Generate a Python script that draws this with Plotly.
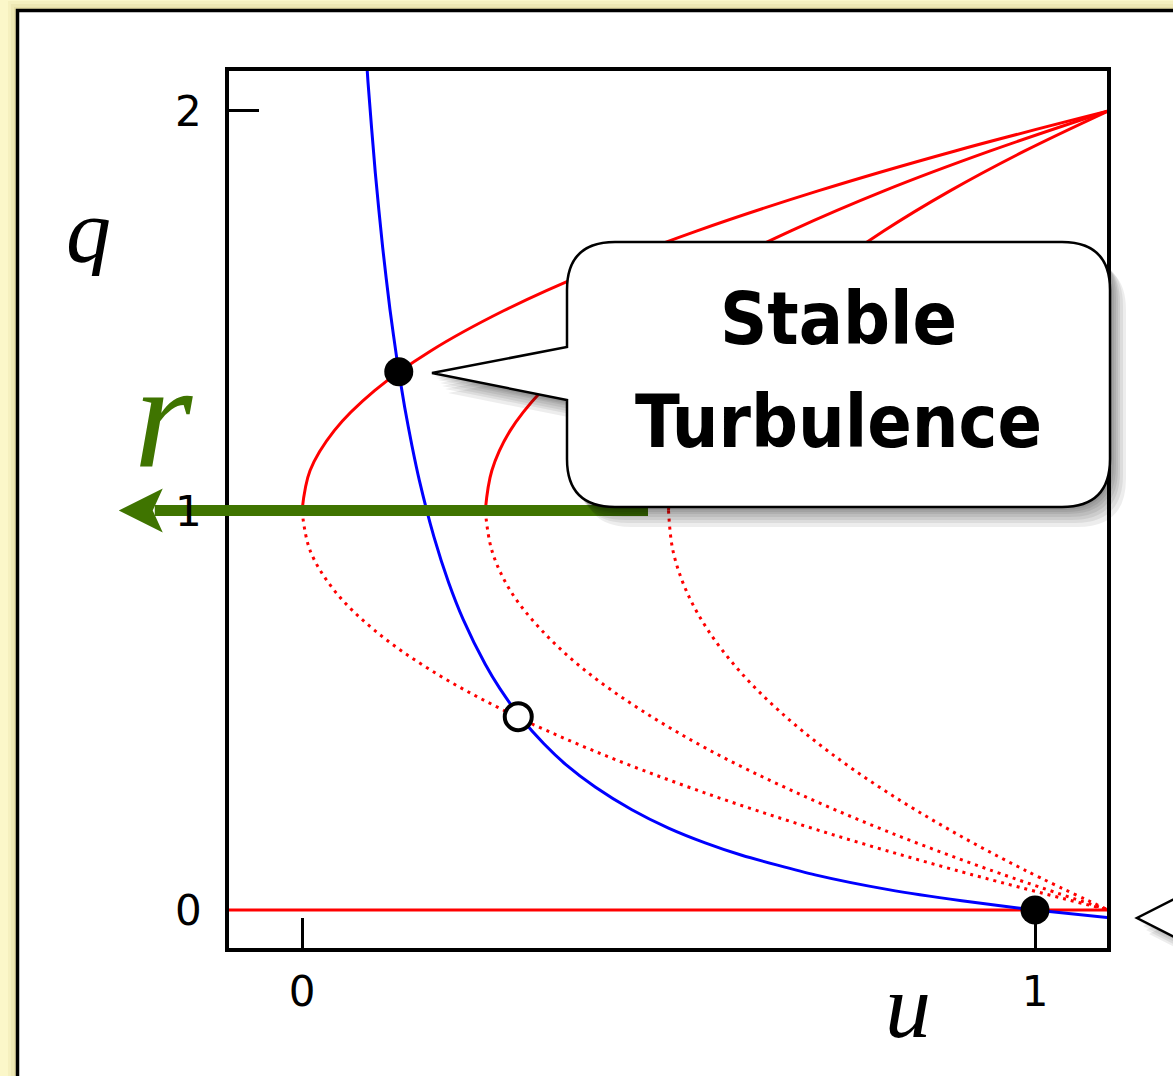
import plotly.graph_objects as go

# ---------------- data ----------------
# q values along the two branches of each fold (nose at q = 1)
q_upper = [1.0, 1.1, 1.2, 1.3, 1.4, 1.5, 1.6, 1.7, 1.8, 1.9, 2.0]
q_lower = [1.0, 0.9, 0.8, 0.7, 0.6, 0.5, 0.4, 0.3, 0.2, 0.1, 0.0]

# u positions of the three folds (same u at mirrored q on each branch)
u_fold_a = [0.0, 0.011, 0.044, 0.099, 0.176, 0.275, 0.396, 0.539, 0.704, 0.891, 1.1]
u_fold_b = [0.25, 0.259, 0.284, 0.327, 0.386, 0.463, 0.556, 0.667, 0.794, 0.939, 1.1]
u_fold_c = [0.5, 0.506, 0.524, 0.554, 0.596, 0.65, 0.716, 0.794, 0.884, 0.986, 1.1]

# trivial branch q = 0
u_zero = [-0.1, 1.1]
q_zero = [0.0, 0.0]

# blue nullcline
u_blue = [0.085, 0.09, 0.1, 0.11, 0.12, 0.13, 0.14, 0.15, 0.16, 0.18, 0.2, 0.22,
          0.25, 0.27, 0.3, 0.33, 0.36, 0.4, 0.45, 0.5, 0.55, 0.6, 0.7, 0.8, 0.9, 1.0, 1.1]
q_blue = [2.21, 2.073, 1.845, 1.659, 1.503, 1.372, 1.259, 1.162, 1.076, 0.934, 0.82, 0.727,
          0.615, 0.554, 0.478, 0.416, 0.364, 0.308, 0.251, 0.205, 0.168, 0.137, 0.088,
          0.051, 0.023, 0.0, -0.019]

# fixed points
u_stable = [0.132, 1.0]
q_stable = [1.347, 0.0]
u_unstable = [0.295]
q_unstable = [0.484]

# axes
x_range = [-0.0996, 1.0982]
y_range = [-0.0951, 2.1001]
x_tick_vals = [0, 1]
x_tick_text = ["0", "1"]
y_tick_vals = [0, 1, 2]
y_tick_text = ["0", "1", "2"]
y_tick_marks = [2]

# control parameter arrow (at q = 1, pointing to decreasing u)
r_arrow_q = 1.0
r_arrow_from_u = 0.472
r_arrow_to_u = -0.25

# ---------------- styling ----------------
RED = "#ff0000"
BLUE = "#0000ff"
GREEN = "#3f7400"
YELLOW = "#fbf7c9"
W, H = 1173, 1076
PL, PR, PT, PB = 229, 1107, 71, 948   # plot-area edges in page pixels


def paper(x, y):
    """page pixel -> paper coordinates"""
    return (x - PL) / (PR - PL), (PB - y) / (PB - PT)


def data_to_px(u, q):
    px = PL + (u - x_range[0]) / (x_range[1] - x_range[0]) * (PR - PL)
    py = PB - (q - y_range[0]) / (y_range[1] - y_range[0]) * (PB - PT)
    return px, py


def path_from_px(points, close=True):
    parts = []
    for cmd, pts in points:
        coords = " ".join("%.5f,%.5f" % paper(x, y) for x, y in pts)
        parts.append(cmd + coords)
    return " ".join(parts) + (" Z" if close else "")


fig = go.Figure()

dot_dash = "3px,5px"
for u_vals in (u_fold_a, u_fold_b, u_fold_c):
    fig.add_trace(go.Scatter(x=u_vals, y=q_upper, mode="lines",
                             line=dict(color=RED, width=3, shape="spline", smoothing=1.0),
                             hoverinfo="skip"))
    fig.add_trace(go.Scatter(x=u_vals, y=q_lower, mode="lines",
                             line=dict(color=RED, width=3, dash=dot_dash, shape="spline", smoothing=1.0),
                             hoverinfo="skip"))

fig.add_trace(go.Scatter(x=u_zero, y=q_zero, mode="lines",
                         line=dict(color=RED, width=3), hoverinfo="skip"))

fig.add_trace(go.Scatter(x=u_blue, y=q_blue, mode="lines",
                         line=dict(color=BLUE, width=3, shape="spline", smoothing=0.6),
                         hoverinfo="skip"))

fig.add_trace(go.Scatter(x=u_stable, y=q_stable, mode="markers",
                         marker=dict(size=29, color="black", line=dict(width=0)),
                         cliponaxis=False, hoverinfo="skip"))
fig.add_trace(go.Scatter(x=u_unstable, y=q_unstable, mode="markers",
                         marker=dict(size=27, color="white", line=dict(width=4, color="black")),
                         cliponaxis=False, hoverinfo="skip"))

shapes = []

# white panel on the yellow page, with a faint glow
for grow, alpha in ((9, 0.05), (6, 0.06), (3, 0.08)):
    x0, y0 = paper(17 - grow, 10 - grow)
    x1, y1 = paper(1300, 1300)
    shapes.append(dict(type="rect", xref="paper", yref="paper", x0=x0, y0=y0, x1=x1, y1=y1,
                       fillcolor="rgba(140,120,20,%.2f)" % alpha, line=dict(width=0), layer="below"))
x0, y0 = paper(17.5, 10.5)
x1, y1 = paper(1300, 1300)
shapes.append(dict(type="rect", xref="paper", yref="paper", x0=x0, y0=y0, x1=x1, y1=y1,
                   fillcolor="white", line=dict(color="black", width=3.5), layer="below"))

# green arrow for r
ax_px, ay_px = data_to_px(r_arrow_from_u, r_arrow_q)
tip_px, _ = data_to_px(r_arrow_to_u, r_arrow_q)
head_len, head_half, notch = 44, 22, 10
sx0, sy0 = paper(ax_px, ay_px)
sx1, sy1 = paper(tip_px + head_len - notch + 2, ay_px)
shapes.append(dict(type="line", xref="paper", yref="paper", x0=sx0, y0=sy0, x1=sx1, y1=sy1,
                   line=dict(color=GREEN, width=11), layer="above"))
shapes.append(dict(type="path", xref="paper", yref="paper", layer="above",
                   path=path_from_px([("M", [(tip_px, ay_px)]),
                                      ("L", [(tip_px + head_len, ay_px - head_half)]),
                                      ("L", [(tip_px + head_len - notch, ay_px)]),
                                      ("L", [(tip_px + head_len, ay_px + head_half)])]),
                   fillcolor=GREEN, line=dict(width=0)))


def callout(L, R, T, B, r, tip, a1, a2, dx=0, dy=0):
    return [("M", [(L + r + dx, T + dy)]),
            ("L", [(R - r + dx, T + dy)]),
            ("Q", [(R + dx, T + dy), (R + dx, T + r + dy)]),
            ("L", [(R + dx, B - r + dy)]),
            ("Q", [(R + dx, B + dy), (R - r + dx, B + dy)]),
            ("L", [(L + r + dx, B + dy)]),
            ("Q", [(L + dx, B + dy), (L + dx, B - r + dy)]),
            ("L", [(L + dx, a2 + dy)]),
            ("L", [(tip[0] + dx, tip[1] + dy)]),
            ("L", [(L + dx, a1 + dy)]),
            ("L", [(L + dx, T + r + dy)]),
            ("Q", [(L + dx, T + dy), (L + r + dx, T + dy)])]


CL, CR, CT, CB, CRAD = 567, 1110, 242, 507, 48
CTIP, CA1, CA2 = (432, 373), 347, 400

for dx, dy in ((16, 20), (13, 16), (10, 13), (8, 10), (6, 7), (4, 5), (2, 3)):
    shapes.append(dict(type="path", xref="paper", yref="paper", layer="above",
                       path=path_from_px(callout(CL, CR, CT, CB, CRAD, CTIP, CA1, CA2, dx, dy)),
                       fillcolor="rgba(0,0,0,0.07)", line=dict(width=0)))
shapes.append(dict(type="path", xref="paper", yref="paper", layer="above",
                   path=path_from_px(callout(CL, CR, CT, CB, CRAD, CTIP, CA1, CA2)),
                   fillcolor="white", line=dict(color="black", width=2.5)))

# second callout entering from the right edge
for dx, dy in ((12, 16), (9, 12), (6, 8), (3, 4)):
    shapes.append(dict(type="path", xref="paper", yref="paper", layer="above",
                       path=path_from_px([("M", [(1200 + dx, 886 + dy)]), ("L", [(1137 + dx, 918 + dy)]),
                                          ("L", [(1200 + dx, 950 + dy)])]),
                       fillcolor="rgba(0,0,0,0.07)", line=dict(width=0)))
shapes.append(dict(type="path", xref="paper", yref="paper", layer="above",
                   path=path_from_px([("M", [(1200, 886)]), ("L", [(1137, 918)]), ("L", [(1200, 950)])]),
                   fillcolor="white", line=dict(color="black", width=2.5)))

annotations = []

# y tick labels (drawn as text so they sit above the arrow)
for v, t in zip(y_tick_vals, y_tick_text):
    x_lab, _ = paper(188, 0)
    annotations.append(dict(x=x_lab, xref="paper", y=v, yref="y", text=t, showarrow=False,
                            xanchor="center", yanchor="middle", height=40,
                            font=dict(family="DejaVu Sans", size=42, color="black")))

# axis symbols
for txt, (px_x, px_y), size, color, box_h in (("q", (88, 231), 90, "black", 90),
                                              ("r", (163, 416), 150, GREEN, 110),
                                              ("u", (908, 1006), 92, "black", 90)):
    ax_, ay_ = paper(px_x, px_y)
    annotations.append(dict(x=ax_, y=ay_, xref="paper", yref="paper", text="<i>%s</i>" % txt,
                            showarrow=False, xanchor="center", yanchor="middle", height=box_h,
                            font=dict(family="Liberation Serif, DejaVu Serif, serif", size=size, color=color)))

# callout text
for txt, (px_x, px_y) in (("Stable", (838, 318)), ("Turbulence", (838, 422))):
    ax_, ay_ = paper(px_x, px_y)
    annotations.append(dict(x=ax_, y=ay_, xref="paper", yref="paper", text="<b>%s</b>" % txt,
                            showarrow=False, xanchor="center", yanchor="middle",
                            font=dict(family="DejaVu Sans Condensed, sans-serif",
                                      size=73, color="black")))

fig.update_layout(
    width=W, height=H,
    margin=dict(l=PL, r=W - PR, t=PT, b=H - PB, autoexpand=False),
    paper_bgcolor=YELLOW, plot_bgcolor="white",
    showlegend=False,
    shapes=shapes, annotations=annotations,
    xaxis=dict(range=x_range, showgrid=False, zeroline=False,
               showline=True, mirror=True, linecolor="black", linewidth=4,
               ticks="inside", ticklen=30, tickwidth=3, tickcolor="black",
               tickvals=x_tick_vals, ticktext=x_tick_text, ticklabelstandoff=4,
               tickfont=dict(family="DejaVu Sans", size=42, color="black"),
               layer="below traces"),
    yaxis=dict(range=y_range, showgrid=False, zeroline=False,
               showline=True, mirror=True, linecolor="black", linewidth=4,
               ticks="inside", ticklen=30, tickwidth=3, tickcolor="black",
               tickvals=y_tick_marks, showticklabels=False,
               layer="below traces"),
)

fig.write_html("out.html")
